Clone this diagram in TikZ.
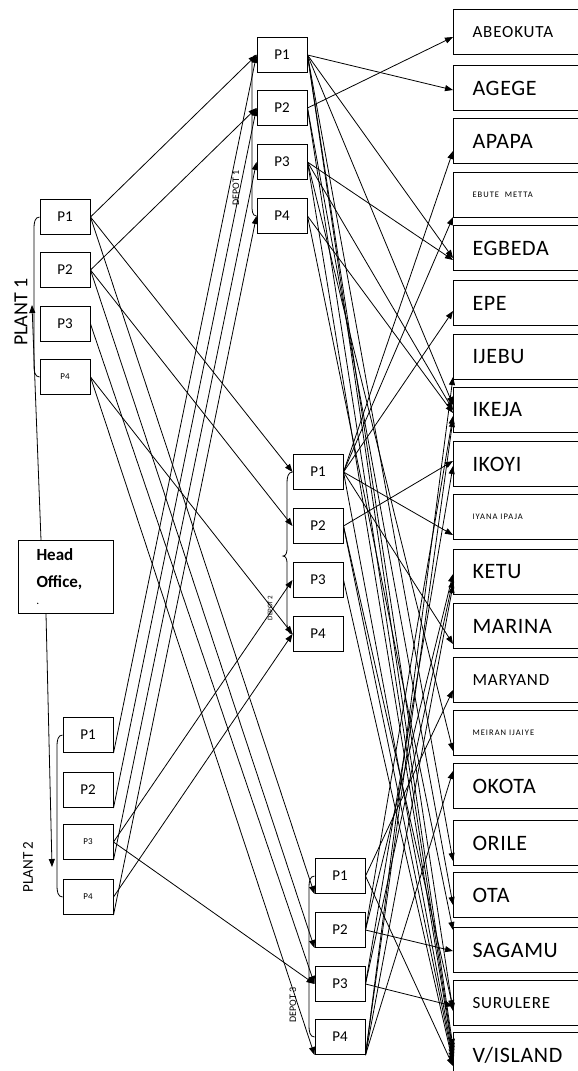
\documentclass[tikz,border=0pt]{standalone}
\usepackage{fontspec}
\setmainfont{Carlito}
\usetikzlibrary{arrows.meta,calc}
\begin{document}
\begin{tikzpicture}[x=1pt,y=-1pt,
  pbox/.style={draw,line width=1pt,minimum width=50pt,minimum height=35pt,inner sep=0pt,font=\fontsize{15}{15}\selectfont},
  psmall/.style={font=\fontsize{9}{9}\selectfont},
  cbox/.style={draw,line width=1pt,anchor=north west,minimum height=45pt,text width=94pt,inner xsep=19pt,inner ysep=0pt,align=left,font=\fontsize{22}{22}\selectfont\addfontfeature{LetterSpace=3}},
  cmed/.style={font=\fontsize{17}{17}\selectfont\addfontfeature{LetterSpace=5}},
  csmall/.style={font=\fontsize{8.5}{8.5}\selectfont\addfontfeature{LetterSpace=12}},
  con/.style={line width=0.8pt,-{Triangle[length=8pt,width=6pt]}},
  brk/.style={line width=0.8pt},
  lab/.style={rotate=90,inner sep=0pt}
]
\useasboundingbox (0,0) rectangle (578,1071);

% ---------------- Head office
\node[draw,line width=1pt,anchor=north west,minimum width=95pt,minimum height=73pt,
      text width=59pt,inner xsep=18pt,inner ysep=0pt,align=left,
      font=\bfseries\fontsize{17}{27}\selectfont] (ho) at (18,540) {Head\\Office,\\[-10pt]\fontsize{9}{9}\selectfont .};

% ---------------- Plant 1
\node[pbox] (p1a) at (65,217) {P1};
\node[pbox] (p1b) at (65,270) {P2};
\node[pbox] (p1c) at (65,324) {P3};
\node[pbox,psmall] (p1d) at (65,377) {P4};
\node[lab,font=\fontsize{20}{20}\selectfont] (lp1) at (21,312) {PLANT 1};

% ---------------- Plant 2
\node[pbox] (p2a) at (88,735) {P1};
\node[pbox] (p2b) at (88,790) {P2};
\node[pbox,psmall] (p2c) at (88,842) {P3};
\node[pbox,psmall] (p2d) at (88,897) {P4};
\node[lab,font=\fontsize{15}{15}\selectfont] (lp2) at (28,867) {PLANT 2};

% ---------------- Depot 1
\node[pbox] (d1a) at (282,55) {P1};
\node[pbox] (d1b) at (282,108) {P2};
\node[pbox] (d1c) at (282,162) {P3};
\node[pbox] (d1d) at (282,216) {P4};
\node[lab,font=\fontsize{10}{10}\selectfont] (ld1) at (236,188) {DEPOT 1};

% ---------------- Depot 2
\node[pbox] (d2a) at (318,472) {P1};
\node[pbox] (d2b) at (318,526) {P2};
\node[pbox] (d2c) at (318,580) {P3};
\node[pbox] (d2d) at (318,634) {P4};
\node[lab,font=\fontsize{7}{7}\selectfont] (ld2) at (270,608) {DEPOT 2};

% ---------------- Depot 3
\node[pbox] (d3a) at (340,876) {P1};
\node[pbox] (d3b) at (340,930) {P2};
\node[pbox] (d3c) at (340,984) {P3};
\node[pbox] (d3d) at (340,1037) {P4};
\node[lab,font=\fontsize{10}{10}\selectfont] (ld3) at (293,1005) {DEPOT 3};

% ---------------- Cities
\node[cbox,cmed] (c1) at (453,9) {ABEOKUTA};
\node[cbox] (c2) at (453,65) {AGEGE};
\node[cbox] (c3) at (453,118) {APAPA};
\node[cbox,csmall] (c4) at (453,172) {EBUTE\ \ METTA};
\node[cbox] (c5) at (453,225) {EGBEDA};
\node[cbox] (c6) at (453,280) {EPE};
\node[cbox] (c7) at (453,334) {IJEBU};
\node[cbox] (c8) at (453,387) {IKEJA};
\node[cbox] (c9) at (453,441) {IKOYI};
\node[cbox,csmall] (c10) at (453,494) {IYANA IPAJA};
\node[cbox] (c11) at (453,549) {KETU};
\node[cbox] (c12) at (453,603) {MARINA};
\node[cbox,cmed] (c13) at (453,657) {MARYAND};
\node[cbox,csmall] (c14) at (453,710) {MEIRAN IJAIYE};
\node[cbox] (c15) at (453,763) {OKOTA};
\node[cbox] (c16) at (453,820) {ORILE};
\node[cbox] (c17) at (453,872) {OTA};
\node[cbox] (c18) at (453,927) {SAGAMU};
\node[cbox,cmed] (c19) at (453,980) {SURULERE};
\node[cbox] (c20) at (453,1032) {V/ISLAND};

% ---------------- Brackets
\draw[brk] (p1a.west) to[out=180,in=90] (34,228) -- (34,366) to[out=-90,in=180] (p1d.west);
\draw[brk] (p2a.west) to[out=180,in=90] (57,746) -- (57,886) to[out=-90,in=180] (p2d.west);
\draw[brk] (d1a.west) to[out=180,in=90] (252,66) -- (252,205) to[out=-90,in=180] (d1d.west);
\draw[brk] (d2a.west) to[out=180,in=90] (287,483) -- (287,549) to[out=-90,in=0] (283,556) to[out=0,in=90] (287,563) -- (287,623) to[out=-90,in=180] (d2d.west);
\draw[brk] (d3a.west) to[out=180,in=90] (309,887) -- (309,1026) to[out=-90,in=180] (d3d.west);

% ---------------- Head office links
\coordinate (hoin) at (32,305);
\coordinate (p2in) at (52,867);
\draw[con] ($(ho.north west)+(23,0)$) -- (hoin);
\draw[con] ($(ho.south west)+(28,0)$) -- (p2in);

% ---------------- Plant -> depot
\draw[con] (p1a.east) -- (d1a.west);
\draw[con] (p1a.east) -- (d2a.west);
\draw[con] (p1a.east) -- (d3a.south west);
\draw[con] (p1b.east) -- (d1b.west);
\draw[con] (p1b.east) -- (d2b.west);
\draw[con] (p1b.east) -- (d3b.south west);
\draw[con] (p1c.east) -- (d3c.west);
\draw[con] (p1d.east) -- (d2d.west);
\draw[con] (p1d.east) -- (d3d.south west);
\draw[con] (p2a.south east) -- (d1a.west);
\draw[con] (p2b.south east) -- (d1b.west);
\draw[con] (p2c.south east) -- (d1c.west);
\draw[con] (p2d.south east) -- (d1d.west);
\draw[con] (p2c.east) -- (d2c.west);
\draw[con] (p2d.east) -- (d2d.west);
\draw[con] (p2c.east) -- (d3c.west);

% ---------------- Depot 1 -> cities
\draw[con] (d1a.east) -- ($(c2.west)+(0,2)$);
\draw[con] (d1a.east) -- ($(c5.west)+(0,10)$);
\draw[con] (d1a.east) -- ($(c8.west)+(0,-5)$);
\draw[con] (d1a.east) -- ($(c16.west)+(0,18)$);
\draw[con] (d1a.east) -- ($(c19.west)+(0,8)$);
\draw[con] (d1a.east) -- ($(c20.west)+(0,-8)$);
\draw[con] (d1b.east) -- ($(c1.west)+(0,5)$);
\draw[con] (d1b.east) -- ($(c17.west)+(0,10)$);
\draw[con] (d1b.east) -- ($(c20.west)+(0,-4)$);
\draw[con] (d1c.east) -- ($(c5.west)+(0,12)$);
\draw[con] (d1c.east) -- ($(c8.west)+(0,0)$);
\draw[con] (d1c.east) -- ($(c14.west)+(0,18)$);
\draw[con] (d1c.east) -- ($(c20.west)+(0,-1)$);
\draw[con] (d1d.east) -- ($(c8.west)+(0,3)$);
\draw[con] (d1d.east) -- ($(c18.west)+(0,-20)$);

% ---------------- Depot 2 -> cities
\draw[con] (d2a.east) -- ($(c3.west)+(0,10)$);
\draw[con] (d2a.east) -- ($(c4.west)+(0,22)$);
\draw[con] (d2a.east) -- ($(c6.west)+(0,8)$);
\draw[con] (d2a.east) -- ($(c10.west)+(0,18)$);
\draw[con] (d2a.east) -- ($(c12.west)+(0,18)$);
\draw[con] (d2a.east) -- ($(c20.west)+(0,2)$);
\draw[con] (d2b.east) -- ($(c9.west)+(0,-3)$);
\draw[con] (d2b.east) -- ($(c19.west)+(0,5)$);
\draw[con] (d2b.east) -- ($(c20.west)+(0,5)$);
\draw[con] (d2c.east) -- ($(c20.west)+(0,8)$);

% ---------------- Depot 3 -> cities
\draw[con] (d3a.east) -- ($(c13.west)+(0,10)$);
\draw[con] (d3a.east) -- ($(c20.west)+(0,11)$);
\draw[con] (d3b.east) -- ($(c18.west)+(0,1)$);
\draw[con] (d3b.east) -- ($(c8.west)+(0,6)$);
\draw[con] (d3b.east) -- ($(c11.west)+(0,2)$);
\draw[con] (d3c.east) -- ($(c19.west)+(0,3)$);
\draw[con] (d3c.east) -- ($(c9.west)+(0,2)$);
\draw[con] (d3c.east) -- ($(c11.west)+(0,8)$);
\draw[con] (d3d.south east) -- ($(c7.west)+(0,20)$);
\draw[con] (d3d.south east) -- ($(c11.west)+(0,13)$);
\draw[con] (d3d.south east) -- ($(c15.west)+(0,-15)$);
\draw[con] (d3d.south east) -- ($(c8.west)+(0,9)$);
\end{tikzpicture}
\end{document}
